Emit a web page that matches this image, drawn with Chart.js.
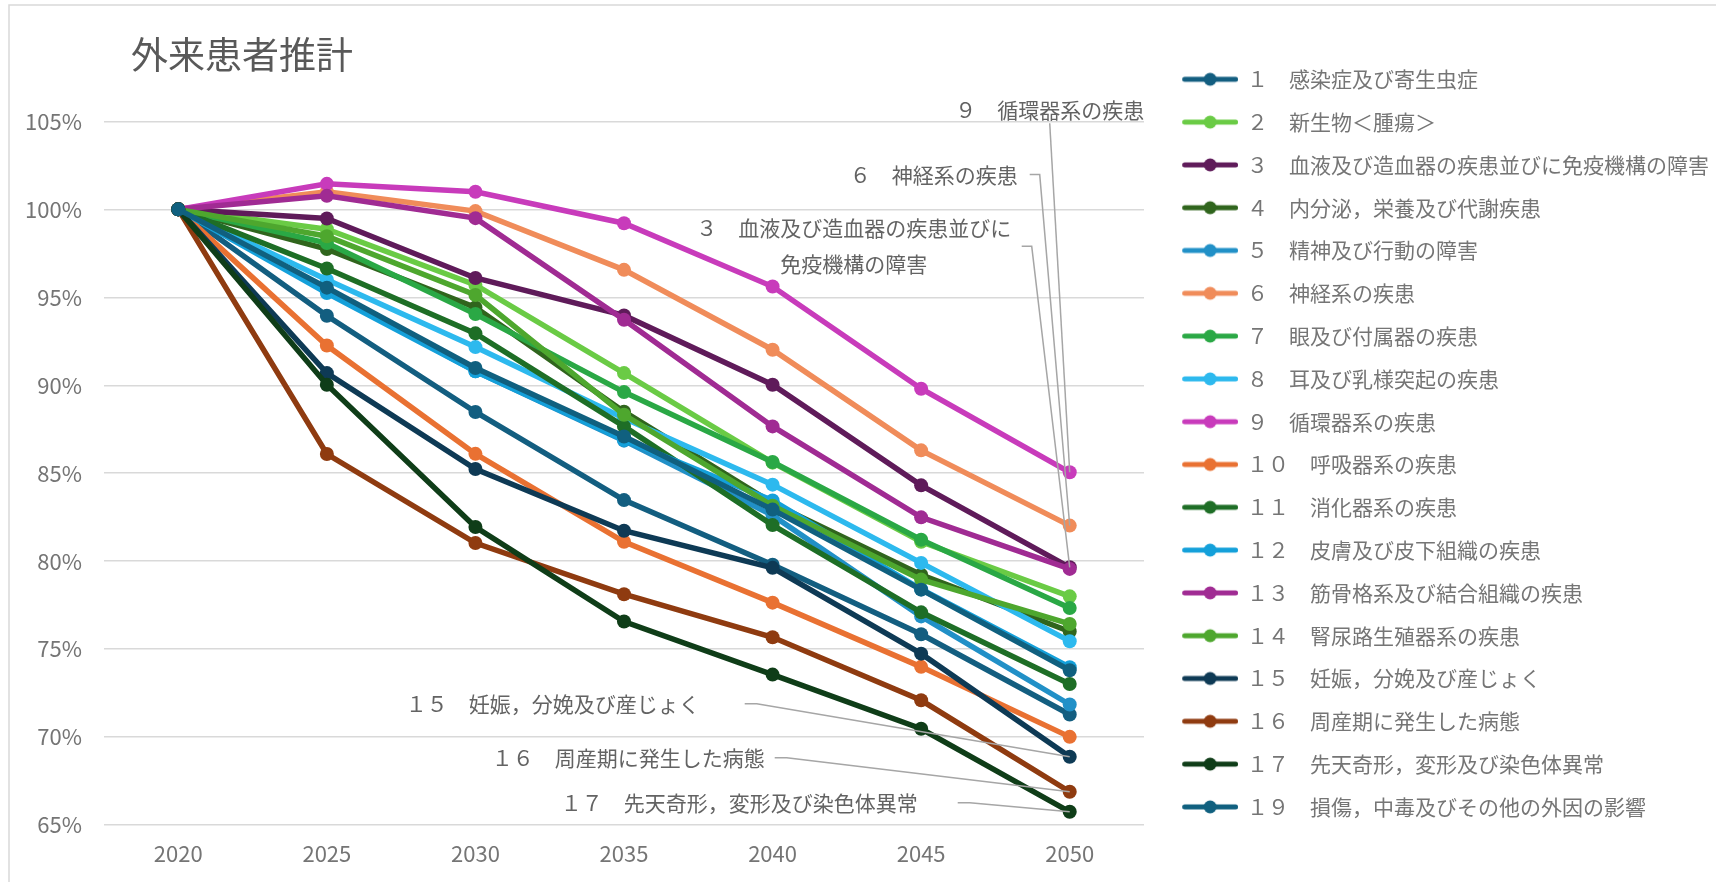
<!DOCTYPE html>
<html lang="ja">
<head>
<meta charset="utf-8">
<title>外来患者推計</title>
<script src="https://cdn.jsdelivr.net/npm/chart.js@4.4.1/dist/chart.umd.min.js"></script>
<style>
  html, body { margin: 0; padding: 0; background: #fff; }
  #wrap { width: 1716px; height: 882px; }
</style>
</head>
<body>
<div id="wrap"><canvas id="myChart" width="1716" height="882"></canvas></div>
<script>
// data (ratio to 2020, %)
const years = ["2020", "2025", "2030", "2035", "2040", "2045", "2050"];

const seriesNames = [
  "１　感染症及び寄生虫症",
  "２　新生物＜腫瘍＞",
  "３　血液及び造血器の疾患並びに免疫機構の障害",
  "４　内分泌，栄養及び代謝疾患",
  "５　精神及び行動の障害",
  "６　神経系の疾患",
  "７　眼及び付属器の疾患",
  "８　耳及び乳様突起の疾患",
  "９　循環器系の疾患",
  "１０　呼吸器系の疾患",
  "１１　消化器系の疾患",
  "１２　皮膚及び皮下組織の疾患",
  "１３　筋骨格系及び結合組織の疾患",
  "１４　腎尿路生殖器系の疾患",
  "１５　妊娠，分娩及び産じょく",
  "１６　周産期に発生した病態",
  "１７　先天奇形，変形及び染色体異常",
  "１９　損傷，中毒及びその他の外因の影響",
];

const s01 = [100, 93.95, 88.48, 83.47, 79.80, 75.84, 71.28];
const s02 = [100, 98.87, 95.70, 90.69, 85.60, 81.10, 78.00];
const s03 = [100, 99.48, 96.10, 93.97, 90.03, 84.31, 79.65];
const s04 = [100, 97.74, 94.42, 88.50, 83.30, 79.23, 76.00];
const s05 = [100, 95.40, 90.80, 86.85, 82.60, 76.86, 71.85];
const s06 = [100, 101.00, 99.90, 96.56, 92.02, 86.30, 82.02];
const s07 = [100, 98.08, 94.05, 89.61, 85.64, 81.22, 77.34];
const s08 = [100, 96.00, 92.17, 88.13, 84.35, 79.90, 75.45];
const s09 = [100, 101.45, 101.00, 99.21, 95.61, 89.80, 85.05];
const s10 = [100, 92.26, 86.10, 81.10, 77.64, 73.99, 70.01];
const s11 = [100, 96.64, 92.95, 87.66, 82.05, 77.09, 73.02];
const s12 = [100, 95.24, 90.80, 86.90, 83.45, 78.40, 73.97];
const s13 = [100, 100.77, 99.50, 93.72, 87.66, 82.49, 79.56];
const s14 = [100, 98.47, 95.13, 88.32, 83.15, 78.95, 76.43];
const s15 = [100, 90.69, 85.24, 81.73, 79.62, 74.74, 68.88];
const s16 = [100, 86.09, 81.03, 78.12, 75.67, 72.09, 66.89];
const s17 = [100, 90.03, 81.94, 76.57, 73.55, 70.47, 65.75];
const s19 = [100, 95.55, 90.98, 87.09, 82.93, 78.38, 73.80];

const seriesValues = [s01, s02, s03, s04, s05, s06, s07, s08, s09,
  s10, s11, s12, s13, s14, s15, s16, s17, s19];

const colors = [
  "#135e80", "#6acb45", "#5f1b5a", "#30651d", "#2190c7", "#f08c5a",
  "#2aa845", "#2db9ee", "#c83bbb", "#e97132", "#1e6e26", "#14a0da",
  "#a02b93", "#4ea72e", "#0e3a55", "#8f3b10", "#0f3d18", "#10607f",
];

const FONT = "'Noto Sans CJK JP', 'Noto Sans', sans-serif";
const TEXT = "#757575";

// little line+dot icon for the legend
function makeIcon(color) {
  const c = document.createElement("canvas");
  c.width = 74;
  c.height = 16;
  const g = c.getContext("2d");
  g.strokeStyle = color;
  g.lineWidth = 5;
  g.lineCap = "round";
  g.beginPath();
  g.moveTo(20.5, 8);
  g.lineTo(71.5, 8);
  g.stroke();
  g.fillStyle = color;
  g.beginPath();
  g.arc(46, 8, 6.5, 0, Math.PI * 2);
  g.fill();
  return c;
}
const icons = colors.map(makeIcon);

// callout labels on the 2050 points (offsets in px from the point)
const callouts = [
  { series: 8, text: ["９　循環器系の疾患"], dx: -20, dy: -362, align: "center", leader: [[-20, -349]] },
  { series: 5, text: ["６　神経系の疾患"], dx: -52, dy: -351, align: "right", leader: [[-40, -351], [-30, -351]] },
  { series: 2, text: ["３　血液及び造血器の疾患並びに", "免疫機構の障害"], dx: -216, dy: -339, align: "center", leader: [[-48, -321], [-38, -321]] },
  { series: 14, text: ["１５　妊娠，分娩及び産じょく"], dx: -370, dy: -53, align: "right", leader: [[-325, -53], [-313, -53]] },
  { series: 15, text: ["１６　周産期に発生した病態"], dx: -305, dy: -34, align: "right", leader: [[-295, -34], [-283, -34]] },
  { series: 16, text: ["１７　先天奇形，変形及び染色体異常"], dx: -152, dy: -9, align: "right", leader: [[-112, -9], [-100, -9]] },
];

const calloutPlugin = {
  id: "callouts",
  afterDatasetsDraw(chart) {
    const ctx = chart.ctx;
    ctx.save();
    callouts.forEach((c) => {
      const meta = chart.getDatasetMeta(c.series);
      const pt = meta.data[meta.data.length - 1];
      if (!pt) return;
      ctx.strokeStyle = "#a6a6a6";
      ctx.lineWidth = 1.5;
      ctx.beginPath();
      c.leader.forEach((p, i) => {
        if (i === 0) ctx.moveTo(pt.x + p[0], pt.y + p[1]);
        else ctx.lineTo(pt.x + p[0], pt.y + p[1]);
      });
      ctx.lineTo(pt.x, pt.y);
      ctx.stroke();
      ctx.fillStyle = "#636363";
      ctx.font = "21px " + FONT;
      ctx.textAlign = c.align;
      ctx.textBaseline = "middle";
      c.text.forEach((t, k) => {
        ctx.fillText(t, pt.x + c.dx, pt.y + c.dy + k * 35.5);
      });
    });
    ctx.restore();
  },
};

const framePlugin = {
  id: "frame",
  beforeLayout(chart) {
    const lg = chart.legend;
    if (lg && !lg._wFixed) {
      const fit = lg.fit.bind(lg);
      lg.fit = function () {
        fit();
        this.width = 572;
      };
      lg._wFixed = true;
    }
  },
  afterLayout(chart) {
    if (chart.titleBlock) chart.titleBlock.left = 131;
  },
  beforeDraw(chart) {
    const ctx = chart.ctx;
    ctx.save();
    ctx.fillStyle = "#ffffff";
    ctx.fillRect(0, 0, chart.width, chart.height);
    ctx.strokeStyle = "#d9d9d9";
    ctx.lineWidth = 1.5;
    ctx.strokeRect(9, 5, chart.width + 10, chart.height + 10);
    ctx.restore();
  },
};

const n = seriesValues.length;
const datasets = seriesValues.map((vals, i) => ({
  label: seriesNames[i],
  data: vals,
  borderColor: colors[i],
  backgroundColor: colors[i],
  pointBackgroundColor: colors[i],
  pointBorderColor: colors[i],
  borderWidth: 5.5,
  pointRadius: 7,
  pointBorderWidth: 0,
  tension: 0,
  order: n - 1 - i,
}));

const ctx = document.getElementById("myChart").getContext("2d");

const lineChart = new Chart(ctx, {
  type: "line",
  data: {
    labels: years,
    datasets: datasets,
  },
  plugins: [framePlugin, calloutPlugin],
  options: {
    responsive: false,
    animation: false,
    events: [],
    layout: { padding: 0 },
    scales: {
      x: {
        offset: true,
        grid: { display: false, drawTicks: false },
        border: { display: false },
        ticks: {
          color: TEXT,
          font: { family: FONT, size: 22 },
          padding: 15,
        },
        afterFit: (scale) => {
          scale.height = 57;
        },
      },
      y: {
        min: 65,
        max: 105,
        grid: { color: "#d9d9d9", lineWidth: 1.5, drawTicks: false },
        border: { display: false },
        ticks: {
          stepSize: 5,
          color: TEXT,
          font: { family: FONT, size: 22 },
          padding: 22,
          callback: (v) => v + "%",
        },
        afterFit: (scale) => {
          scale.width = 104;
        },
      },
    },
    plugins: {
      title: {
        display: true,
        text: "外来患者推計",
        align: "start",
        color: "#595959",
        font: { family: FONT, size: 37, weight: "normal", lineHeight: 1.2 },
        padding: { top: 33, bottom: 44 },
      },
      legend: {
        position: "right",
        align: "start",
        title: {
          display: true,
          text: " ",
          font: { size: 10, lineHeight: 1 },
          padding: { top: 37, bottom: 0 },
        },
        labels: {
          color: TEXT,
          font: { family: FONT, size: 21 },
          padding: 21.8,
          usePointStyle: true,
          pointStyleWidth: 70.7,
          sort: (a, b) => a.datasetIndex - b.datasetIndex,
          generateLabels: (chart) => {
            const items = Chart.defaults.plugins.legend.labels.generateLabels(chart);
            items.forEach((it) => {
              it.pointStyle = icons[it.datasetIndex];
            });
            return items;
          },
        },
      },
      tooltip: { enabled: false },
    },
  },
});
</script>
</body>
</html>
